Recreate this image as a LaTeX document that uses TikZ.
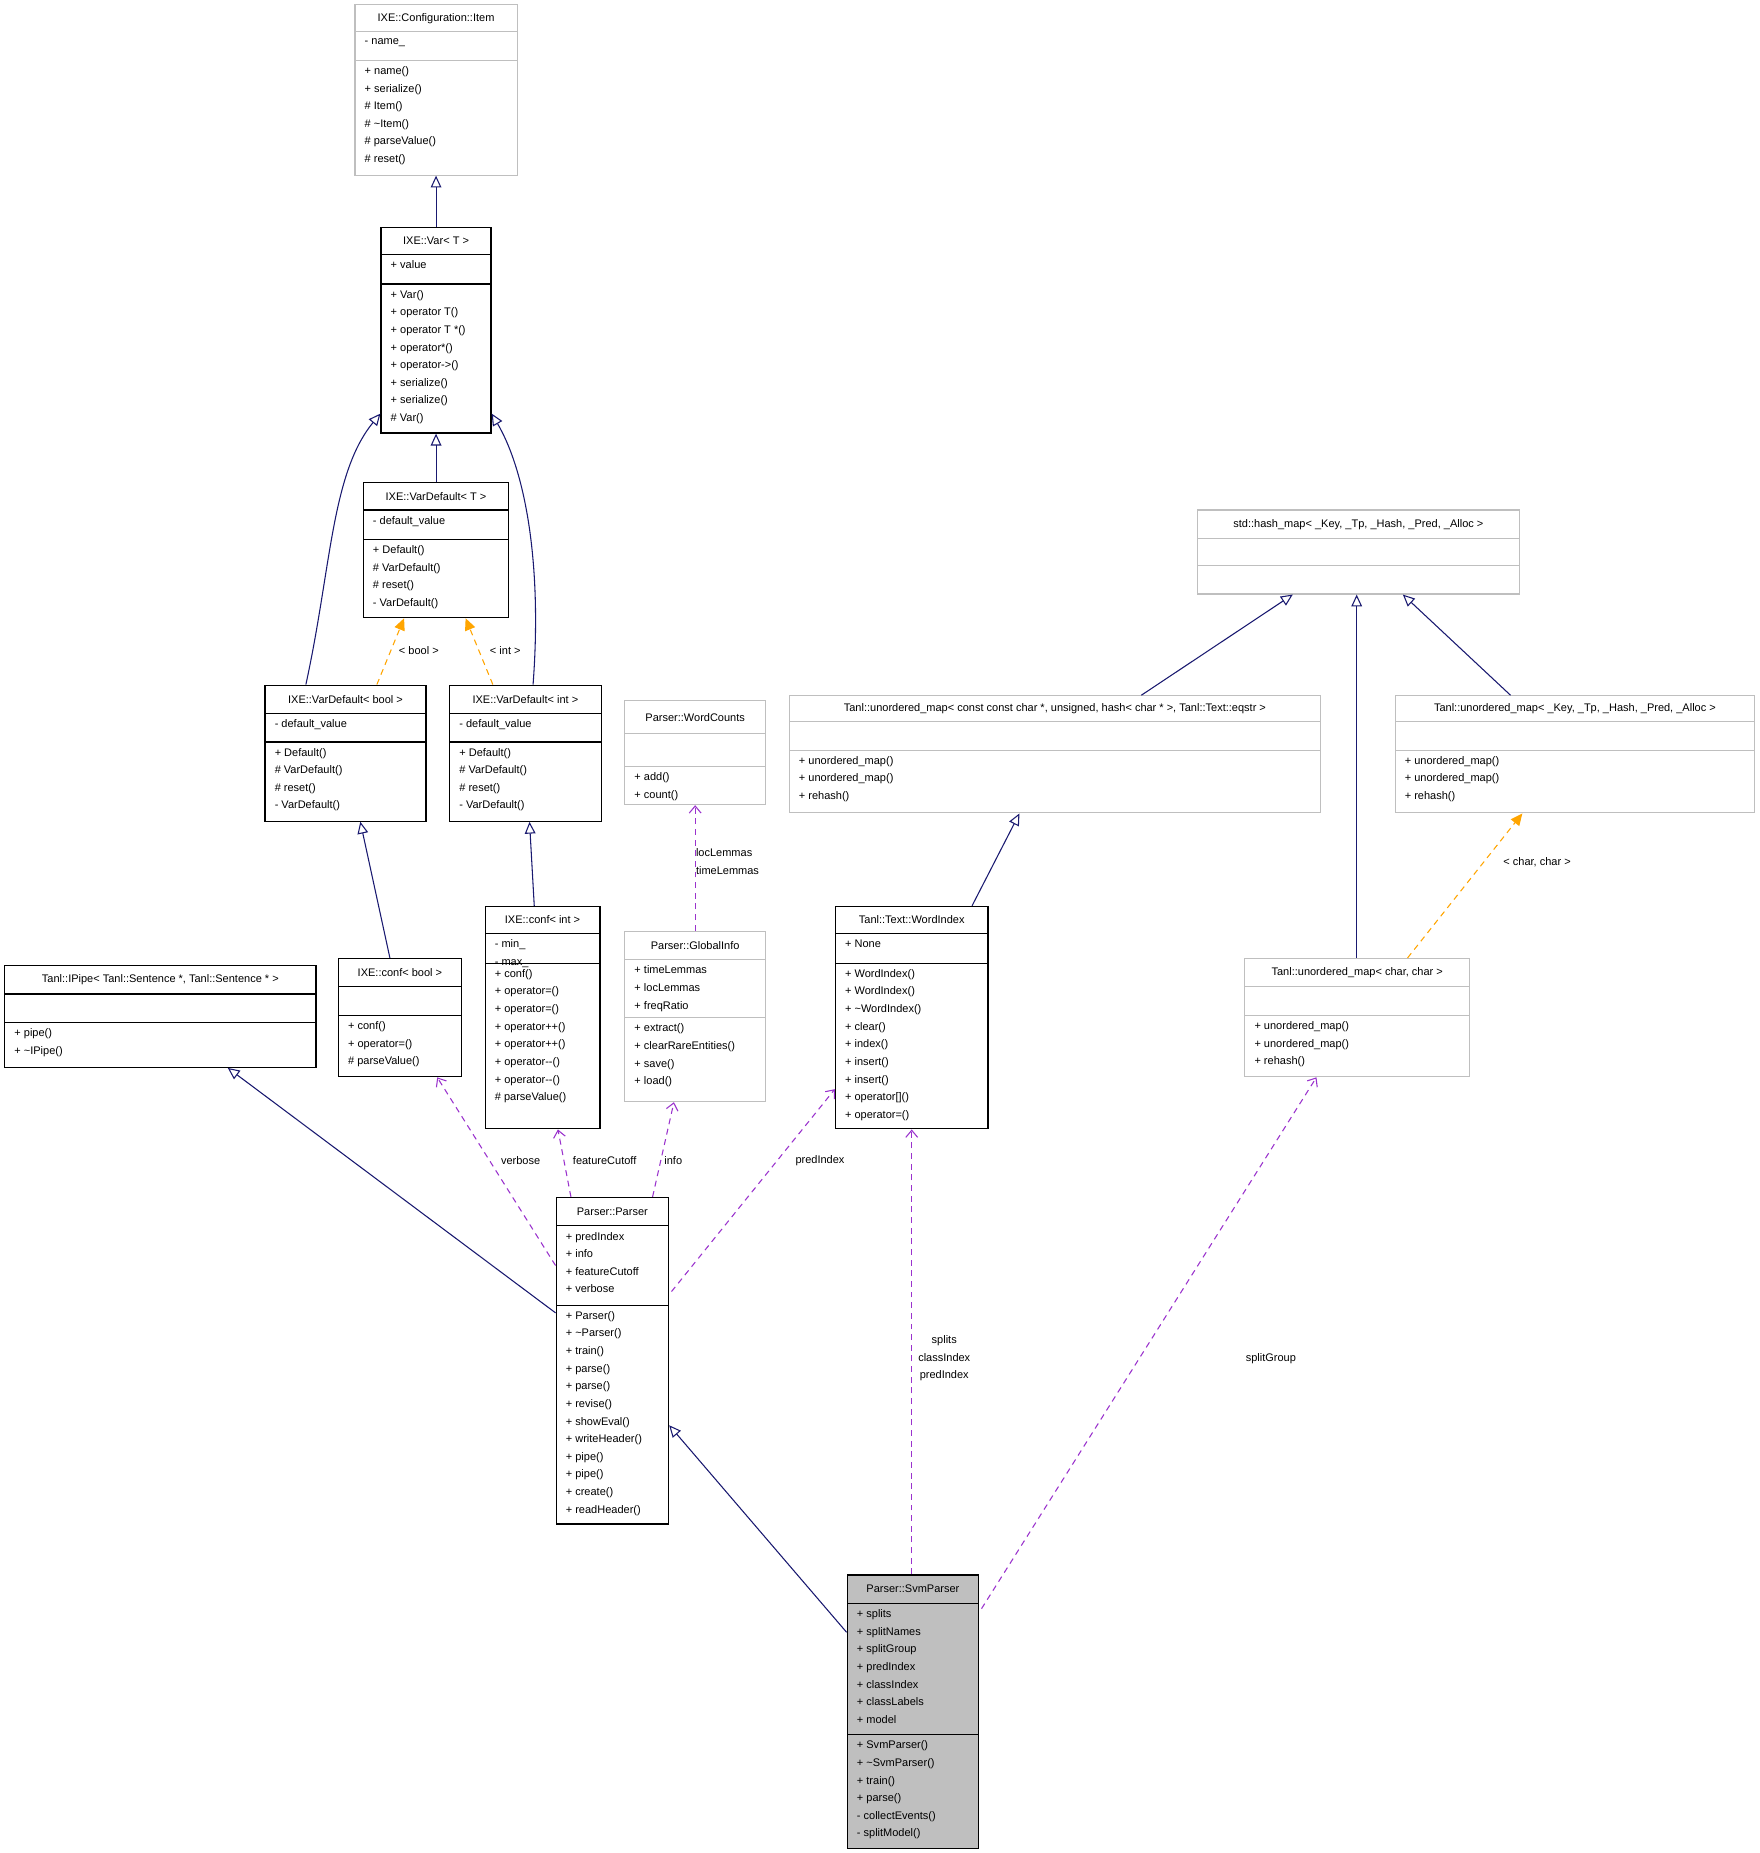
\documentclass[tikz,border=0pt]{standalone}
\usepackage{fontspec}
\setmainfont{Liberation Sans}
\usetikzlibrary{arrows.meta,fit,calc}
\definecolor{navy}{HTML}{191970}
\definecolor{purp}{HTML}{9A32CD}
\definecolor{orng}{HTML}{FFA500}
\definecolor{lgray}{HTML}{BFBFBF}
\tikzset{
 cblack/.style={draw=black,line width=1pt},
 cgray/.style={draw=lgray,line width=0.9pt},
 cfill/.style={draw=black,line width=1pt,fill=lgray},
 txt/.style={font=\fontsize{9.3}{14.9}\selectfont,inner sep=0pt},
 inh/.style={navy,line width=0.9pt,-{Triangle[open,length=10pt,width=9pt,fill=white]}},
 tmpl/.style={orng,line width=0.9pt,dashed,dash pattern=on 5pt off 4pt,-{Triangle[length=10pt,width=9pt]}},
 use/.style={purp,line width=0.9pt,dash pattern=on 5pt off 4pt,-{Straight Barb[length=6pt,width=10pt]}},
 lbl/.style={txt,align=left}
}
\newcommand\umlbox[9]{\def\bN{#1}\def\bL{#2}\def\bT{#3}\def\bR{#4}\def\bA{#5}\def\bB{#6}\def\bBt{#7}\def\bS{#8}\def\bTi{#9}\umlboxcont}
\newcommand\umlboxcont[2]{%
 \path (\bL,\bT) coordinate (\bN-nw) (\bR,\bBt) coordinate (\bN-se);
 \node[fit=(\bN-nw)(\bN-se),inner sep=0pt,\bS] (\bN) {};
 \draw[\bS,fill=none] (\bL,\bA) -- (\bR,\bA) (\bL,\bB) -- (\bR,\bB);
 \node[txt] at ({(\bL+\bR)/2},{(\bT+\bA)/2}) {\bTi};
 \node[txt,anchor=north west,align=left] at ({\bL+8},{\bA+5}) {#1};
 \node[txt,anchor=north west,align=left] at ({\bL+8},{\bB+5}) {#2};
}
\begin{document}
\begin{tikzpicture}[x=1pt,y=-1pt]
\useasboundingbox (0,0) rectangle (1487,1566);
\fill[white] (0,0) rectangle (1487,1566);
\umlbox{item}{300}{4}{437}{27}{51}{148}{cgray}{IXE::Configuration::Item}{- name\_}{+ name()\\+ serialize()\\\# Item()\\\# \textasciitilde Item()\\\# parseValue()\\\# reset()}
\umlbox{var}{322}{192}{415}{215}{240}{366}{cblack}{IXE::Var< T >}{+ value}{+ Var()\\+ operator T()\\+ operator T *()\\+ operator*()\\+ operator->()\\+ serialize()\\+ serialize()\\\# Var()}
\umlbox{vdt}{307}{408}{430}{431}{456}{522}{cblack}{IXE::VarDefault< T >}{- default\_value}{+ Default()\\\# VarDefault()\\\# reset()\\- VarDefault()}
\umlbox{vdb}{224}{579}{360}{603}{627}{694}{cblack}{IXE::VarDefault< bool >}{- default\_value}{+ Default()\\\# VarDefault()\\\# reset()\\- VarDefault()}
\umlbox{vdi}{380}{579}{508}{603}{627}{694}{cblack}{IXE::VarDefault< int >}{- default\_value}{+ Default()\\\# VarDefault()\\\# reset()\\- VarDefault()}
\umlbox{wc}{528}{592}{647}{620}{648}{680}{cgray}{Parser::WordCounts}{}{+ add()\\+ count()}
\umlbox{umc}{667}{588}{1116}{610}{634}{687}{cgray}{Tanl::unordered\_map< const const char *, unsigned, hash< char * >, Tanl::Text::eqstr >}{}{+ unordered\_map()\\+ unordered\_map()\\+ rehash()}
\umlbox{hm}{1012}{431}{1284}{455}{478}{502}{cgray}{std::hash\_map< \_Key, \_Tp, \_Hash, \_Pred, \_Alloc >}{}{}
\umlbox{umk}{1179}{588}{1483}{610}{634}{687}{cgray}{Tanl::unordered\_map< \_Key, \_Tp, \_Hash, \_Pred, \_Alloc >}{}{+ unordered\_map()\\+ unordered\_map()\\+ rehash()}
\umlbox{ipipe}{4}{816}{267}{840}{864}{902}{cblack}{Tanl::IPipe< Tanl::Sentence *, Tanl::Sentence * >}{}{+ pipe()\\+ \textasciitilde IPipe()}
\umlbox{cb}{286}{810}{390}{834}{858}{910}{cblack}{IXE::conf< bool >}{}{+ conf()\\+ operator=()\\\# parseValue()}
\umlbox{ci}{410}{766}{507}{789}{814}{954}{cblack}{IXE::conf< int >}{- min\_\\- max\_}{+ conf()\\+ operator=()\\+ operator=()\\+ operator++()\\+ operator++()\\+ operator-{}-()\\+ operator-{}-()\\\# parseValue()}
\umlbox{gi}{528}{787}{647}{811}{860}{931}{cgray}{Parser::GlobalInfo}{+ timeLemmas\\+ locLemmas\\+ freqRatio}{+ extract()\\+ clearRareEntities()\\+ save()\\+ load()}
\umlbox{wi}{706}{766}{835}{789}{814}{954}{cblack}{Tanl::Text::WordIndex}{+ None}{+ WordIndex()\\+ WordIndex()\\+ \textasciitilde WordIndex()\\+ clear()\\+ index()\\+ insert()\\+ insert()\\+ operator[]()\\+ operator=()}
\umlbox{umcc}{1052}{810}{1242}{834}{858}{910}{cgray}{Tanl::unordered\_map< char, char >}{}{+ unordered\_map()\\+ unordered\_map()\\+ rehash()}
\umlbox{parser}{470}{1012}{565}{1036}{1103}{1288}{cblack}{Parser::Parser}{+ predIndex\\+ info\\+ featureCutoff\\+ verbose}{+ Parser()\\+ \textasciitilde Parser()\\+ train()\\+ parse()\\+ parse()\\+ revise()\\+ showEval()\\+ writeHeader()\\+ pipe()\\+ pipe()\\+ create()\\+ readHeader()}
\umlbox{svm}{716}{1331}{827}{1355}{1466}{1562}{cfill}{Parser::SvmParser}{+ splits\\+ splitNames\\+ splitGroup\\+ predIndex\\+ classIndex\\+ classLabels\\+ model}{+ SvmParser()\\+ \textasciitilde SvmParser()\\+ train()\\+ parse()\\- collectEvents()\\- splitModel()}
% inheritance
\draw[inh] (var.north) -- (item.south);
\draw[inh] (vdt.north) -- (var.south);
\draw[inh] ($(vdb.north west)+(35,0)$) .. controls (280,480) and (280,400) .. ($(var.south west)+(0,-17)$);
\draw[inh] ($(vdi.north west)+(71,0)$) .. controls (458,480) and (445,400) .. ($(var.south east)+(0,-17)$);
\draw[inh] ($(cb.north west)+(44,0)$) -- ($(vdb.south west)+(81,0)$);
\draw[inh] ($(ci.north west)+(42,0)$) -- ($(vdi.south west)+(68,0)$);
\draw[inh] ($(wi.north west)+(116,0)$) -- ($(umc.south west)+(195,0)$);
\draw[inh] ($(umc.north west)+(298,0)$) -- ($(hm.south west)+(81,0)$);
\draw[inh] ($(umcc.north west)+(95,0)$) -- ($(hm.south west)+(135,0)$);
\draw[inh] ($(umk.north west)+(98,0)$) -- ($(hm.south west)+(174,0)$);
\draw[inh] ($(parser.north west)+(0,98)$) -- ($(ipipe.south west)+(189,0)$);
\draw[inh] ($(svm.north west)+(0,49)$) -- ($(parser.north east)+(0,193)$);
% template
\draw[tmpl] ($(vdb.north west)+(95,0)$) -- ($(vdt.south west)+(35,0)$);
\draw[tmpl] ($(vdi.north west)+(37,0)$) -- ($(vdt.south west)+(87,0)$);
\draw[tmpl] ($(umcc.north west)+(138,0)$) -- ($(umk.south west)+(108,0)$);
\node[lbl] at (354,550) {< bool >};
\node[lbl] at (427,550) {< int >};
\node[lbl] at (1299,729) {< char, char >};
% usage
\draw[use] (gi.north) -- (wc.south);
\node[lbl,anchor=west] at (588,728) {locLemmas\\timeLemmas};
\draw[use] ($(parser.north west)+(0,58)$) -- ($(cb.south west)+(84,0)$);
\node[lbl] at (440,981) {verbose};
\draw[use] ($(parser.north west)+(13,0)$) -- ($(ci.south west)+(62,0)$);
\node[lbl] at (511,981) {featureCutoff};
\draw[use] ($(parser.north west)+(82,0)$) -- ($(gi.south west)+(42,0)$);
\node[lbl] at (569,981) {info};
\draw[use] ($(parser.north east)+(2,80)$) -- ($(wi.south west)+(0,-34)$);
\node[lbl] at (693,981) {predIndex};
\draw[use] ($(svm.north west)+(55,0)$) -- ($(wi.south west)+(65,0)$);
\node[lbl,align=center] at (798,1148) {splits\\classIndex\\predIndex};
\draw[use] ($(svm.north east)+(2,29)$) -- ($(umcc.south west)+(61,0)$);
\node[lbl] at (1074,1148) {splitGroup};
\end{tikzpicture}
\end{document}
